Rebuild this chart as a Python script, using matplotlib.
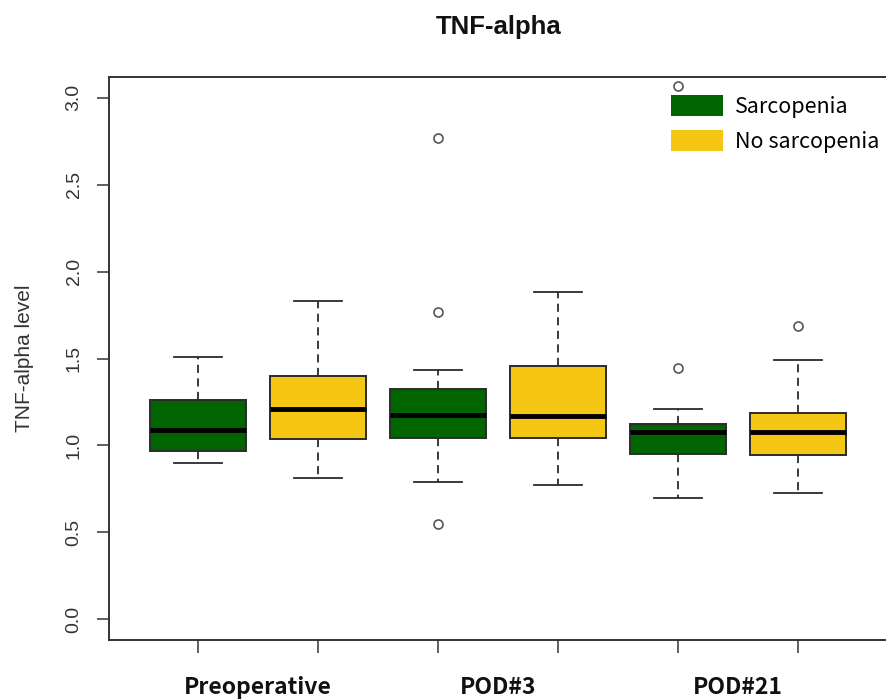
import matplotlib
matplotlib.use("Agg")
import matplotlib.pyplot as plt
from matplotlib.patches import Patch

# ---- data ----
groups = ["Preoperative", "POD#3", "POD#21"]
series = ["Sarcopenia", "No sarcopenia"]
# order: Preop-S, Preop-N, POD3-S, POD3-N, POD21-S, POD21-N
whislo = [0.898, 0.812, 0.789, 0.773, 0.695, 0.727]
q1 = [0.965, 1.036, 1.044, 1.044, 0.950, 0.942]
med = [1.090, 1.207, 1.174, 1.167, 1.077, 1.075]
q3 = [1.261, 1.399, 1.324, 1.458, 1.123, 1.188]
whishi = [1.508, 1.831, 1.432, 1.884, 1.207, 1.491]
fliers = [[], [], [2.77, 1.77, 0.55], [], [3.07, 1.445], [1.685]]
yticks = [0.0, 0.5, 1.0, 1.5, 2.0, 2.5, 3.0]

colors = ["#006400", "#F5C714"]
edge = "#2b2b2b"

fig = plt.figure(figsize=(8.87, 7.0), dpi=100)
ax = fig.add_axes([109 / 887, 60 / 700, 778 / 887 - 0.0005, 563 / 700])

stats = []
for i in range(6):
    stats.append(dict(med=med[i], q1=q1[i], q3=q3[i], whislo=whislo[i],
                      whishi=whishi[i], fliers=fliers[i]))
positions = list(range(1, 7))
bp = ax.bxp(stats, positions=positions, widths=0.8, patch_artist=True,
            capwidths=0.4, manage_ticks=False,
            boxprops=dict(edgecolor=edge, linewidth=1.4),
            medianprops=dict(color="black", linewidth=3.5, solid_capstyle="butt"),
            whiskerprops=dict(color=edge, linewidth=1.3, linestyle=(0, (4.5, 3))),
            capprops=dict(color=edge, linewidth=1.3),
            flierprops=dict(marker="o", markerfacecolor="none",
                            markeredgecolor="#555555", markersize=6.5,
                            markeredgewidth=1.2))
for i, b in enumerate(bp["boxes"]):
    b.set_facecolor(colors[i % 2])

ax.set_xlim(0.26, 6.74)
ax.set_ylim(-0.12, 3.12)

for s in ax.spines.values():
    s.set_color("#333333")
    s.set_linewidth(1.4)

ax.set_yticks(yticks)
ax.set_yticklabels([f"{v:.1f}" for v in yticks], rotation=90, va="center",
                   family="Liberation Sans", fontsize=14, color="#333333")
ax.tick_params(axis="y", length=9, width=1.2, color="#444444", pad=10)

ax.set_xticks(positions)
ax.set_xticklabels([""] * 6)
ax.tick_params(axis="x", which="major", length=9, width=1.2, color="#444444")
ax.set_xticks([1.5, 3.5, 5.5], minor=True)
ax.set_xticklabels(groups, minor=True, fontsize=16.5, fontweight="bold",
                   family=["Noto Sans CJK KR", "DejaVu Sans"], color="#111111")
ax.tick_params(axis="x", which="minor", length=0, pad=26)

ax.set_ylabel("TNF-alpha level", family="Liberation Sans", fontsize=15,
              color="#333333", labelpad=23)
fig.text(0.5625, 1 - 27 / 700, "TNF-alpha", ha="center", va="center",
         family="Liberation Sans", fontweight="bold", fontsize=18.5, color="#111111")

handles = [Patch(facecolor=colors[0], edgecolor="none"),
           Patch(facecolor=colors[1], edgecolor="none")]
leg = ax.legend(handles, series, loc="upper left",
                bbox_to_anchor=(671 / 887, 1 - 95 / 700),
                bbox_transform=fig.transFigure, frameon=False,
                prop=dict(family=["Noto Sans CJK KR", "DejaVu Sans"], size=15.5),
                handlelength=2.4, handleheight=1.15, handletextpad=0.55,
                labelspacing=0.55, borderpad=0, borderaxespad=0)

fig.savefig("out.png", dpi=100)
